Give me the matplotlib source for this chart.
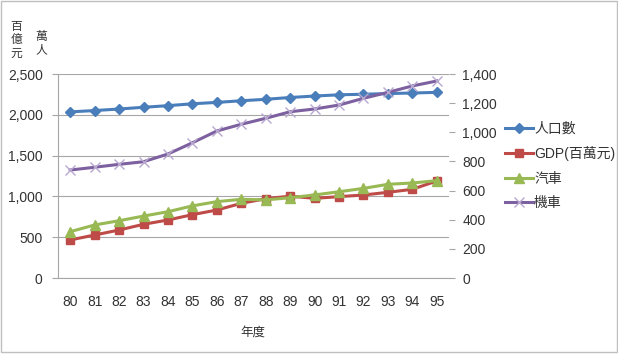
import matplotlib
matplotlib.use("Agg")
import matplotlib.pyplot as plt
from matplotlib.patches import Rectangle
from matplotlib.ticker import FuncFormatter
import numpy as np

# --- data ------------------------------------------------------------------
years = ['80', '81', '82', '83', '84', '85', '86', '87',
         '88', '89', '90', '91', '92', '93', '94', '95']
population = [2036, 2052, 2071, 2092, 2112, 2135, 2152, 2172,
              2190, 2212, 2230, 2245, 2252, 2260, 2267, 2275]      # 萬人 (left axis)
gdp = [466, 527, 588, 658, 711, 776, 833, 915,
       972, 1003, 976, 997, 1017, 1050, 1087, 1189]                # 百億元 (left axis)
cars = [318, 364, 393, 425, 455, 495, 524, 540,
        536, 551, 570, 592, 615, 643, 652, 668]                    # 萬輛 (right axis)
motorcycles = [741, 760, 780, 798, 851, 928, 1009, 1055,
               1096, 1141, 1160, 1187, 1233, 1274, 1318, 1352]     # 萬輛 (right axis)

labels = ['人口數', 'GDP(百萬元)', '汽車', '機車']

FONT = ['Liberation Sans', 'Noto Sans CJK TC', 'DejaVu Sans']
CJK = ['Noto Sans CJK TC', 'DejaVu Sans']
plt.rcParams['font.family'] = FONT

W, H = 618, 357
fig = plt.figure(figsize=(W / 100, H / 100), dpi=100)
fig.patch.set_facecolor('white')

# plot area in pixels: left 58, right 449, top 74, bottom 278
ax = fig.add_axes([58 / W, 1 - 278 / H, (449 - 58) / W, (278 - 74) / H])
ax2 = ax.twinx()

x = np.arange(len(years))
grid_c = '#A6A6A6'
txt_c = '#333333'

l1, = ax.plot(x, population, color='#4A7EBB', lw=2.2, marker='D', ms=5.5,
              mfc='#4A7EBB', mec='#4A7EBB', label=labels[0], zorder=3)
l2, = ax.plot(x, gdp, color='#BE4B48', lw=2.2, marker='s', ms=6,
              mfc='#BE4B48', mec='#BE4B48', label=labels[1], zorder=3)
l3, = ax2.plot(x, cars, color='#98B954', lw=2.2, marker='^', ms=7,
               mfc='#98B954', mec='#98B954', label=labels[2], zorder=3)
l4, = ax2.plot(x, motorcycles, color='#7D60A0', lw=2.2, marker='x', ms=7,
               mec='#B8A8D0', mew=1.0, label=labels[3], zorder=3)

ax.set_xlim(-0.5, len(years) - 0.5)
ax.set_ylim(0, 2500)
ax.set_yticks(np.arange(0, 2501, 500))
ax2.set_ylim(0, 1400)
ax2.set_yticks(np.arange(0, 1401, 200))
ax.set_xticks(x)
ax.set_xticklabels(years)

fmt = FuncFormatter(lambda v, p: f'{int(v):,}')
ax.yaxis.set_major_formatter(fmt)
ax2.yaxis.set_major_formatter(fmt)

ax.grid(axis='y', color=grid_c, lw=0.8)
ax.set_axisbelow(True)

for a in (ax, ax2):
    for s in a.spines.values():
        s.set_visible(False)
ax.spines['left'].set_visible(True)
ax.spines['left'].set_color(grid_c)
ax.spines['bottom'].set_visible(True)
ax.spines['bottom'].set_color(grid_c)

ax.tick_params(axis='y', length=4, color=grid_c, width=0.8, pad=7,
               labelsize=10, labelcolor=txt_c)
ax.tick_params(axis='x', length=0, pad=12.5, labelsize=10, labelcolor=txt_c)
ax2.tick_params(axis='y', length=4, color=grid_c, width=0.8, pad=5.5,
                labelsize=10, labelcolor=txt_c)

# axis titles
fig.text(16 / W, 1 - 40 / H, '百\n億\n元', ha='center', va='center',
         fontsize=8.5, family=CJK, linespacing=1.05, color=txt_c)
fig.text(41 / W, 1 - 43 / H, '萬\n人', ha='center', va='center',
         fontsize=8.5, family=CJK, linespacing=1.05, color=txt_c)
fig.text(253 / W, 1 - 332 / H, '年度', ha='center', va='center',
         fontsize=9, family=CJK, color=txt_c)

leg = fig.legend(handles=[l1, l2, l3, l4], labels=labels,
                 loc='center left', bbox_to_anchor=(498 / W, 1 - 166 / H),
                 frameon=False, fontsize=10, handlelength=2.0,
                 handletextpad=0.1, labelspacing=0.75, borderpad=0)
for t in leg.get_texts():
    t.set_color(txt_c)

# light frame around the whole chart
fig.patches.append(Rectangle((0.5 / W, 1 - 352 / H), 616 / W, 351.5 / H,
                             transform=fig.transFigure, fill=False,
                             ec='#BFBFBF', lw=1))

fig.savefig('out.png', dpi=100)
